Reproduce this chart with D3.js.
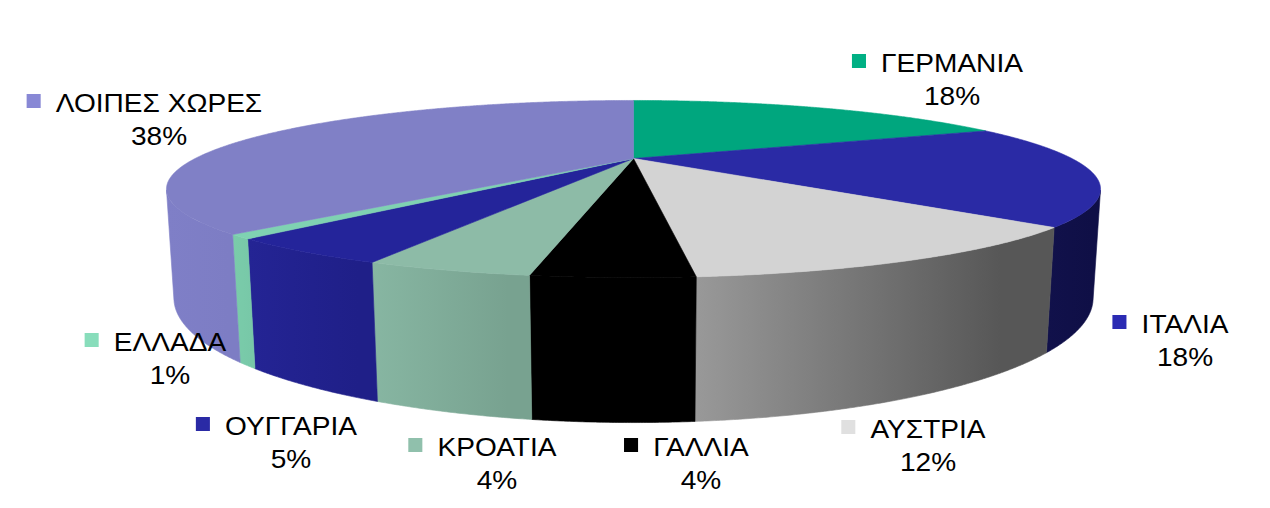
<!DOCTYPE html>
<html>
<head>
<meta charset="utf-8">
<script src="https://cdn.jsdelivr.net/npm/d3@7"></script>
<style>
  body { margin: 0; background: #fff; }
  svg { display: block; }
</style>
</head>
<body>
<div id="chart"></div>
<script>
// slice data, clockwise from 12 o'clock
const countries = ["ΓΕΡΜΑΝΙΑ", "ΙΤΑΛΙΑ", "ΑΥΣΤΡΙΑ", "ΓΑΛΛΙΑ", "ΚΡΟΑΤΙΑ", "ΟΥΓΓΑΡΙΑ", "ΕΛΛΑΔΑ", "ΛΟΙΠΕΣ ΧΩΡΕΣ"]
const shares = [18.4, 18.45, 11.65, 4.0, 4.2, 4.55, 0.75, 38.0]

// styles
const topColors = ["#00a67e", "#2a2aa5", "#d3d3d3", "#000000", "#8dbba7", "#24249a", "#7fd2b2", "#8080c6"]
const sideColors = [
  ["#009070", "#008060"],
  ["#11114b", "#0f0f46"],
  ["#999999", "#575757"],
  ["#000000", "#000000"],
  ["#87b6a2", "#78a290"],
  ["#242494", "#1f1f88"],
  ["#7accaa", "#78c8a8"],
  ["#7f7fc7", "#7d7dc4"]
]
const legendColors = ["#00b084", "#2b2bb3", "#e0e0e0", "#000000", "#90c0ac", "#2a2aa5", "#88ddbb", "#8888d5"]
// label text centre x and baseline y
const labelAnchors = [[952, 72], [1185, 333], [928, 438], [701, 456], [497, 456], [291, 435], [170, 351], [159, 112]]

const WIDTH = 1270
const HEIGHT = 508

const svg = d3.select("#chart")
  .append("svg")
  .attr("width", WIDTH)
  .attr("height", HEIGHT)

const defs = svg.append("defs")

// perspective camera
const CX = 633.5, CY = 158.5
const FOCAL = 1251.5
const RADIUS = 0.3503
const THICK = 0.0802
const SIN = 0.178, COS = Math.sqrt(1 - SIN * SIN)

function project(theta, z) {
  const x = RADIUS * Math.sin(theta)
  const y = RADIUS * Math.cos(theta)
  const yc = y * SIN + z * COS
  const zc = 1 + y * COS - z * SIN
  return [CX + FOCAL * x / zc, CY - FOCAL * yc / zc]
}

function arcPoints(a0, a1, z) {
  const n = Math.max(2, Math.ceil((a1 - a0) / 0.005))
  const t = d3.scaleLinear().domain([0, n]).range([a0, a1])
  return d3.range(n + 1).map(i => project(t(i), z))
}

const pie = d3.pie().sort(null).value(d => d)
const arcs = pie(shares)

const line = d3.line().curve(d3.curveLinearClosed)

// outer wall is seen only where it faces the camera
const wallFrom = Math.acos(-RADIUS / COS)
const wallTo = 2 * Math.PI - wallFrom

const sides = svg.append("g").attr("class", "sides")
arcs.forEach((d, i) => {
  const b0 = Math.max(d.startAngle, wallFrom)
  const b1 = Math.min(d.endAngle, wallTo)
  if (b1 <= b0) return
  const topArc = arcPoints(b0, b1, 0)
  const bottomArc = arcPoints(b0, b1, -THICK).reverse()
  const pts = topArc.concat(bottomArc)
  const xs = d3.extent(pts, p => p[0])

  const grad = defs.append("linearGradient")
    .attr("id", "side" + i)
    .attr("gradientUnits", "userSpaceOnUse")
    .attr("x1", xs[0]).attr("x2", xs[1])
    .attr("y1", 0).attr("y2", 0)
  grad.append("stop").attr("offset", 0).attr("stop-color", sideColors[i][0])
  grad.append("stop").attr("offset", 0.85).attr("stop-color", sideColors[i][1])
  grad.append("stop").attr("offset", 1).attr("stop-color", sideColors[i][1])

  sides.append("path")
    .attr("d", line(pts))
    .attr("fill", `url(#side${i})`)
    .attr("stroke", `url(#side${i})`)
    .attr("stroke-width", 0.6)
})

const tops = svg.append("g").attr("class", "tops")
tops.selectAll("path")
  .data(arcs)
  .join("path")
  .attr("d", d => line([[CX, CY]].concat(arcPoints(d.startAngle, d.endAngle, 0))))
  .attr("fill", (d, i) => topColors[i])
  .attr("stroke", (d, i) => topColors[i])
  .attr("stroke-width", 0.6)
  .attr("stroke-linejoin", "round")

// labels
const fmt = v => Math.round(v) + "%"
const total = d3.sum(shares)
const labels = svg.append("g")
  .attr("class", "labels")
  .attr("font-family", "'Liberation Sans', Arial, sans-serif")
  .attr("font-size", "26px")
  .attr("fill", "#000")

countries.forEach((name, i) => {
  const g = labels.append("g")
    .attr("transform", `translate(${labelAnchors[i][0]}, ${labelAnchors[i][1]}) scale(1.08, 1)`)
  const t = g.append("text")
    .attr("text-anchor", "middle")
    .text(name)
  const w = t.node().getComputedTextLength()
  g.append("rect")
    .attr("x", -w / 2 - 27)
    .attr("y", -18)
    .attr("width", 13)
    .attr("height", 14)
    .attr("fill", legendColors[i])
  g.append("text")
    .attr("text-anchor", "middle")
    .attr("y", 33.5)
    .text(fmt(shares[i] / total * 100))
})
</script>
</body>
</html>
